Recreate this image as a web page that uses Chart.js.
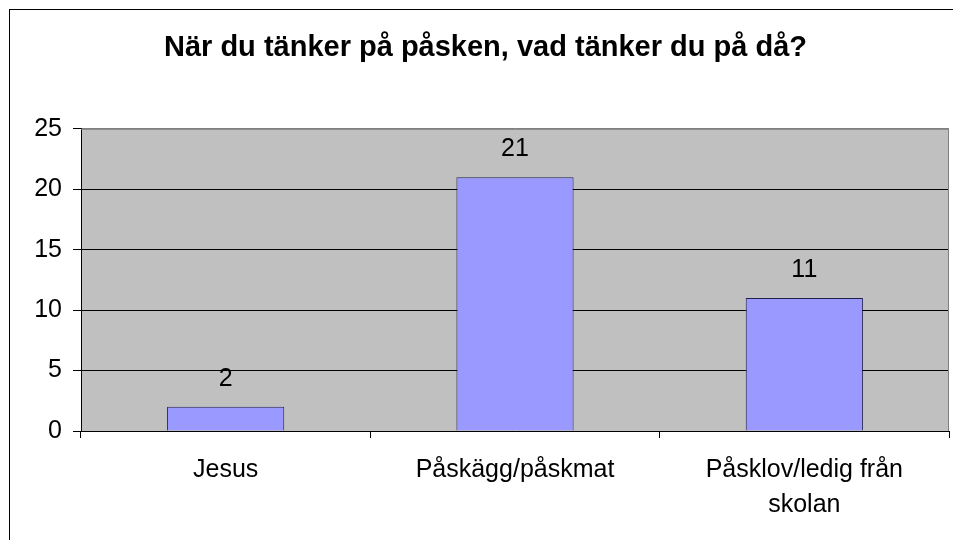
<!DOCTYPE html>
<html>
<head>
<meta charset="utf-8">
<script src="https://cdn.jsdelivr.net/npm/chart.js@4/dist/chart.umd.min.js"></script>
<style>
    body { margin: 0; background: #fff; }
    #wrap { width: 953px; height: 540px; }
</style>
</head>
<body>
<div id="wrap"><canvas id="grafico" width="953" height="540"></canvas></div>
<script>
var titulo = "När du tänker på påsken, vad tänker du på då?";
var categorias = ["Jesus", "Påskägg/påskmat", ["Påsklov/ledig från", "skolan"]];
var valores = [2, 21, 11];
var yMin = 0;
var yMax = 25;
var yPasso = 5;

var fonte = "Arial, 'Liberation Sans', sans-serif";

// fundo cinza da area do grafico + moldura externa
var fundoPlugin = {
    id: "fundo",
    beforeDraw: function (chart) {
        const ctx = chart.ctx;
        const a = chart.chartArea;
        ctx.save();
        ctx.fillStyle = "#fff";
        ctx.fillRect(0, 0, chart.width, chart.height);
        ctx.strokeStyle = "#000";
        ctx.lineWidth = 1;
        ctx.strokeRect(9.5, 9.5, 980, 560);
        ctx.fillStyle = "#c0c0c0";
        ctx.fillRect(a.left, a.top, a.right - a.left, a.bottom - a.top);
        ctx.restore();
    },
    afterDraw: function (chart) {
        const ctx = chart.ctx;
        const a = chart.chartArea;
        ctx.save();
        ctx.strokeStyle = "#808080";
        ctx.lineWidth = 1;
        ctx.beginPath();
        ctx.moveTo(a.left, a.top + 0.5);
        ctx.lineTo(a.right - 0.5, a.top + 0.5);
        ctx.lineTo(a.right - 0.5, a.bottom);
        ctx.stroke();
        ctx.restore();
    }
};

// rotulos de valor acima das barras
var rotulosPlugin = {
    id: "rotulos",
    afterDatasetsDraw: function (chart) {
        const ctx = chart.ctx;
        const meta = chart.getDatasetMeta(0);
        ctx.save();
        ctx.font = "25px " + fonte;
        ctx.fillStyle = "#000";
        ctx.textAlign = "center";
        ctx.textBaseline = "middle";
        meta.data.forEach(function (bar, i) {
            ctx.fillText(String(valores[i]), bar.x, bar.y - 28);
        });
        ctx.restore();
    }
};

var ctx = document.getElementById("grafico").getContext("2d");

new Chart(ctx, {
    type: "bar",
    data: {
        labels: categorias,
        datasets: [{
            data: valores,
            backgroundColor: "#9999ff",
            borderColor: "#202050",
            borderWidth: 1,
            categoryPercentage: 1,
            barPercentage: 0.405
        }]
    },
    options: {
        responsive: false,
        animation: false,
        layout: {
            padding: { left: 22, right: 4, top: 0, bottom: 0 }
        },
        plugins: {
            legend: { display: false },
            tooltip: { enabled: false },
            title: {
                display: true,
                text: titulo,
                color: "#000",
                font: { family: fonte, size: 29, weight: "bold" },
                padding: { top: 31, bottom: 63 }
            }
        },
        scales: {
            x: {
                grid: {
                    offset: true,
                    drawOnChartArea: false,
                    tickLength: 7,
                    tickColor: "#000"
                },
                border: { color: "#000", width: 1 },
                ticks: {
                    color: "#000",
                    padding: 15,
                    maxRotation: 0,
                    autoSkip: false,
                    font: { family: fonte, size: 25, lineHeight: 1.4 }
                },
                afterFit: function (scale) { scale.height = 109; }
            },
            y: {
                min: yMin,
                max: yMax,
                ticks: {
                    stepSize: yPasso,
                    color: "#000",
                    padding: 11,
                    font: { family: fonte, size: 25 }
                },
                grid: {
                    color: function (c) { return c.tick && c.tick.value === yMax ? "#808080" : "#000"; },
                    tickColor: "#000",
                    tickLength: 8
                },
                border: { color: "#000", width: 1 },
                afterFit: function (scale) { scale.width = 59; }
            }
        }
    },
    plugins: [fundoPlugin, rotulosPlugin]
});
</script>
</body>
</html>
